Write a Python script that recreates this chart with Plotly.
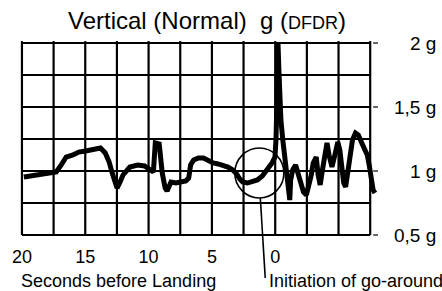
import plotly.graph_objects as go

# time relative to landing (s, negative = before landing) and vertical load factor (g)
time_s = [-19.85, -18.84, -18.06, -17.29, -16.90, -16.51, -15.97, -15.51, -14.97, -14.42,
          -13.80, -13.42, -13.11, -12.87, -12.64, -12.49, -12.25, -12.02, -11.48, -10.86,
          -10.32, -9.85, -9.62, -9.47, -9.16, -8.92, -8.69, -8.54, -8.23, -7.84,
          -7.45, -7.06, -6.83, -6.68, -6.44, -6.06, -5.67, -5.28, -4.90, -4.51,
          -4.12, -3.73, -3.35, -3.04, -2.80, -2.57, -2.19, -1.80, -1.41, -1.02,
          -0.64, -0.25, -0.02, 0.06, 0.14, 0.18, 0.22, 0.29, 0.37, 0.45,
          0.60, 0.76, 0.91, 1.07, 1.15, 1.22, 1.38, 1.61, 1.84, 2.08,
          2.23, 2.46, 2.62, 2.85, 3.00, 3.24, 3.39, 3.55, 3.70, 3.94,
          4.09, 4.25, 4.48, 4.71, 4.94, 5.10, 5.25, 5.41, 5.56, 5.72,
          5.87, 6.10, 6.34, 6.57, 6.80, 7.03, 7.27, 7.42, 7.58, 7.73, 7.88]
g_load = [0.953, 0.969, 0.977, 0.992, 1.047, 1.109, 1.125, 1.148, 1.156, 1.164,
          1.180, 1.141, 1.070, 0.984, 0.914, 0.867, 0.914, 0.969, 1.031, 1.047,
          1.039, 1.008, 0.992, 1.219, 1.211, 0.984, 0.867, 0.844, 0.914, 0.906,
          0.914, 0.922, 0.945, 1.047, 1.086, 1.102, 1.102, 1.078, 1.063, 1.055,
          1.047, 1.031, 1.008, 0.977, 0.938, 0.914, 0.906, 0.914, 0.930, 0.961,
          1.008, 1.063, 1.109, 1.242, 1.555, 1.867, 2.000, 1.789, 1.555, 1.398,
          1.242, 1.125, 0.992, 0.852, 0.773, 0.930, 1.008, 1.047, 0.969, 0.891,
          0.836, 0.813, 0.875, 0.969, 1.063, 1.109, 0.969, 0.891, 0.992, 1.164,
          1.219, 1.125, 1.031, 1.125, 1.227, 1.164, 1.008, 0.906, 0.875, 0.969,
          1.086, 1.242, 1.297, 1.281, 1.227, 1.180, 1.125, 1.047, 0.945, 0.852, 0.828]

x_grid = [-20 + 2.5 * i for i in range(12)]
y_grid = [0.5, 0.75, 1.0, 1.25, 1.5, 1.75, 2.0]
x_tick_vals = [-20, -15, -10, -5, 0]
x_tick_text = ["20", "15", "10", "5", "0"]
y_label_vals = [2.0, 1.5, 1.0, 0.5]
y_label_text = ["2 g", "1,5 g", "1 g", "0,5 g"]

FONT = "Arial, Liberation Sans, sans-serif"
W, H = 442, 291
ML, MR, MT, MB = 12, 62, 40, 53
PW = W - ML - MR

def px_x(p):
    return (p - ML) / PW

def px_y(p):
    return (H - MB - p) / (H - MT - MB)

fig = go.Figure()
fig.add_trace(go.Scatter(x=time_s, y=g_load, mode="lines",
                         line=dict(color="black", width=5), hoverinfo="skip"))

shapes = []
for xv in x_grid:
    shapes.append(dict(type="line", xref="x", yref="y", x0=xv, x1=xv, y0=0.5, y1=2.015,
                       line=dict(color="black", width=2.2), layer="below"))
for yv in y_grid:
    shapes.append(dict(type="line", xref="x", yref="y", x0=-20, x1=7.5, y0=yv, y1=yv,
                       line=dict(color="black", width=2.2), layer="below"))
for yv in y_label_vals:
    shapes.append(dict(type="line", xref="paper", yref="y", x0=px_x(373), x1=px_x(378),
                       y0=yv, y1=yv, line=dict(color="black", width=1.2)))
# circle marking the initiation of go-around
shapes.append(dict(type="circle", xref="paper", yref="paper",
                   x0=px_x(232), x1=px_x(282), y0=px_y(198), y1=px_y(148),
                   line=dict(color="black", width=1.6)))
shapes.append(dict(type="line", xref="paper", yref="paper",
                   x0=px_x(258), x1=px_x(263), y0=px_y(198), y1=px_y(278),
                   line=dict(color="black", width=1.6)))

annotations = [
    dict(text="Vertical (Normal) &nbsp;g (<span style='font-size:18px'>DFDR</span>)",
         xref="paper", yref="paper", x=px_x(204), y=px_y(20), xanchor="center", yanchor="middle",
         showarrow=False, font=dict(family=FONT, size=24, color="black")),
    dict(text="Seconds before Landing", xref="paper", yref="paper", x=px_x(12), y=px_y(281),
         xanchor="left", yanchor="middle", showarrow=False,
         font=dict(family=FONT, size=18, color="black")),
    dict(text="Initiation of go-around", xref="paper", yref="paper", x=px_x(265), y=px_y(281),
         xanchor="left", yanchor="middle", showarrow=False,
         font=dict(family=FONT, size=18, color="black")),
]
for yv, txt in zip(y_label_vals, y_label_text):
    annotations.append(dict(text=txt, xref="paper", yref="y", x=px_x(439), y=yv,
                            xanchor="right", yanchor="middle", showarrow=False,
                            font=dict(family=FONT, size=19, color="black")))

fig.update_layout(
    width=W, height=H,
    margin=dict(l=ML, r=MR, t=MT, b=MB),
    paper_bgcolor="white", plot_bgcolor="white",
    showlegend=False,
    shapes=shapes,
    annotations=annotations,
    xaxis=dict(range=[-20 - 3 / 12.909, 7.5 + 10 / 12.909], showgrid=False, zeroline=False,
               showline=False, tickmode="array", tickvals=x_tick_vals, ticktext=x_tick_text,
               ticks="", ticklabelstandoff=6,
               tickfont=dict(family=FONT, size=18, color="black")),
    yaxis=dict(range=[0.5 - 3 / 128, 2 + 3 / 128], showgrid=False, zeroline=False,
               showline=False, showticklabels=False, ticks=""),
)

fig.write_html("out.html", config={"displayModeBar": False},
               post_script="document.body.style.margin='0';")
